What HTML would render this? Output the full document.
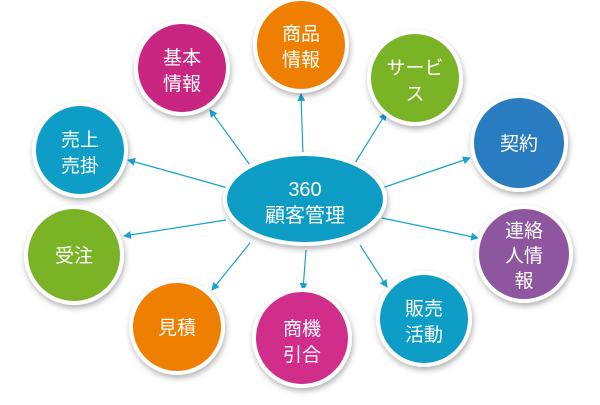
<!DOCTYPE html>
<html><head><meta charset="utf-8"><style>
body{margin:0;background:#fff;width:600px;height:400px;overflow:hidden}
text{font-family:"Liberation Sans","Noto Sans CJK JP",sans-serif;fill:#fff;text-anchor:middle}
</style></head><body>
<svg width="600" height="400" viewBox="0 0 600 400">
<defs>
<marker id="a" markerWidth="8" markerHeight="8" refX="7" refY="4" orient="auto" markerUnits="userSpaceOnUse"><path d="M0,0L8,4L0,8z" fill="#1aa3cc"/></marker>
<filter id="s" x="-30%" y="-30%" width="160%" height="160%"><feDropShadow dx="1" dy="3" stdDeviation="3" flood-opacity="0.3"/></filter>
</defs>
<g stroke="#1aa3cc" stroke-width="1.2" marker-end="url(#a)">
<line x1="250" y1="165" x2="210" y2="110"/>
<line x1="303" y1="155" x2="301" y2="94"/>
<line x1="355" y1="163" x2="386" y2="113"/>
<line x1="382" y1="188" x2="470" y2="158"/>
<line x1="228" y1="188" x2="128" y2="160"/>
<line x1="226" y1="220" x2="124" y2="236"/>
<line x1="382" y1="218" x2="478" y2="238"/>
<line x1="250" y1="243" x2="212" y2="290"/>
<line x1="306" y1="250" x2="303" y2="290"/>
<line x1="360" y1="245" x2="387" y2="287"/>
</g>
<g filter="url(#s)" stroke="#fff" stroke-width="4">
<circle cx="182" cy="68" r="46" fill="#c92581"/>
<circle cx="301" cy="45" r="46" fill="#ee7f00"/>
<circle cx="415" cy="78" r="46" fill="#7ab428"/>
<circle cx="519" cy="143" r="47" fill="#2c7cc1"/>
<circle cx="80" cy="150" r="46" fill="#0b9dc6"/>
<circle cx="74" cy="255" r="48" fill="#7ab428"/>
<circle cx="524" cy="254" r="47" fill="#8d569f"/>
<circle cx="177" cy="327" r="46" fill="#ee7f00"/>
<circle cx="302" cy="338" r="48" fill="#d12d8c"/>
<circle cx="424" cy="319" r="46" fill="#0b9dc6"/>
<ellipse cx="305" cy="199" rx="80" ry="45" fill="#0a9cc4"/>
</g>
<g font-size="19">
<text x="182" y="64">基本</text><text x="182" y="90">情報</text>
<text x="301" y="40">商品</text><text x="301" y="66">情報</text>
<text x="415" y="74">サービ</text><text x="415" y="100">ス</text>
<text x="519" y="150">契約</text>
<text x="80" y="146">売上</text><text x="80" y="172">売掛</text>
<text x="74" y="262">受注</text>
<text x="524" y="237">連絡</text><text x="524" y="262">人情</text><text x="524" y="287">報</text>
<text x="177" y="334">見積</text>
<text x="302" y="335">商機</text><text x="302" y="361">引合</text>
<text x="424" y="315">販売</text><text x="424" y="341">活動</text>
<text x="305" y="196" font-size="20">360</text><text x="305" y="222" font-size="20">顧客管理</text>
</g>
</svg>
</body></html>
